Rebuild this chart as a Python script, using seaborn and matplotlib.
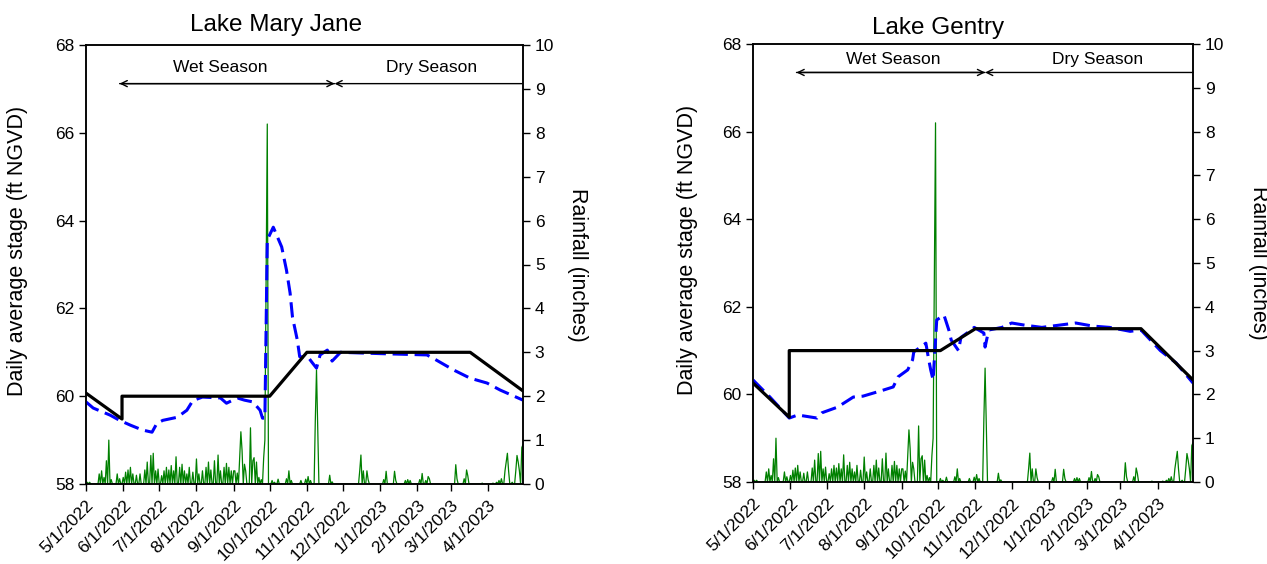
import matplotlib
matplotlib.use('Agg')
import matplotlib.pyplot as plt
import matplotlib.dates as mdates
import seaborn as sns
import pandas as pd

# ---------------- data ----------------
tick_dates = ['5/1/2022', '6/1/2022', '7/1/2022', '8/1/2022', '9/1/2022', '10/1/2022',
              '11/1/2022', '12/1/2022', '1/1/2023', '2/1/2023', '3/1/2023', '4/1/2023']
tick_labels = tick_dates

rain_dates = ['5/2/2022', '5/4/2022', '5/12/2022', '5/14/2022', '5/16/2022', '5/18/2022', '5/20/2022',
              '5/22/2022', '5/27/2022', '5/29/2022', '6/1/2022', '6/3/2022', '6/5/2022', '6/7/2022',
              '6/9/2022', '6/12/2022', '6/15/2022', '6/19/2022', '6/21/2022', '6/24/2022', '6/26/2022',
              '6/28/2022', '6/30/2022', '7/3/2022', '7/5/2022', '7/7/2022', '7/9/2022', '7/11/2022',
              '7/13/2022', '7/15/2022', '7/18/2022', '7/20/2022', '7/22/2022', '7/24/2022', '7/26/2022',
              '7/29/2022', '8/1/2022', '8/3/2022', '8/6/2022', '8/9/2022', '8/11/2022', '8/13/2022',
              '8/16/2022', '8/19/2022', '8/21/2022', '8/24/2022', '8/26/2022', '8/28/2022', '8/30/2022',
              '9/1/2022', '9/2/2022', '9/4/2022', '9/6/2022', '9/7/2022', '9/8/2022', '9/10/2022',
              '9/11/2022', '9/15/2022', '9/17/2022', '9/18/2022', '9/20/2022', '9/22/2022', '9/24/2022',
              '9/26/2022', '9/27/2022', '9/28/2022', '9/29/2022', '10/3/2022', '10/5/2022', '10/8/2022',
              '10/15/2022', '10/17/2022', '10/19/2022', '10/27/2022', '10/31/2022', '11/2/2022',
              '11/4/2022', '11/8/2022', '11/9/2022', '11/10/2022', '11/20/2022', '11/22/2022',
              '12/15/2022', '12/16/2022', '12/18/2022', '12/21/2022', '12/22/2022', '1/4/2023',
              '1/6/2023', '1/13/2023', '1/14/2023', '1/22/2023', '1/24/2023', '1/26/2023', '2/3/2023',
              '2/5/2023', '2/8/2023', '2/10/2023', '2/11/2023', '3/5/2023', '3/6/2023', '3/12/2023',
              '3/14/2023', '3/15/2023', '3/27/2023', '4/5/2023', '4/8/2023', '4/10/2023', '4/12/2023',
              '4/15/2023', '4/16/2023', '4/17/2023', '4/18/2023', '4/21/2023', '4/24/2023', '4/25/2023',
              '4/26/2023', '4/27/2023', '4/29/2023', '4/30/2023']
rain_values = [0.04, 0.04, 0.23, 0.30, 0.15, 0.53, 1.00,
               0.10, 0.23, 0.12, 0.15, 0.27, 0.32, 0.38,
               0.23, 0.20, 0.23, 0.32, 0.50, 0.65, 0.70,
               0.30, 0.34, 0.19, 0.30, 0.38, 0.32, 0.42,
               0.30, 0.62, 0.38, 0.45, 0.30, 0.23, 0.38,
               0.27, 0.57, 0.23, 0.30, 0.38, 0.50, 0.32,
               0.53, 0.66, 0.30, 0.38, 0.47, 0.38, 0.30,
               0.30, 0.30, 0.25, 0.60, 1.19, 0.76, 0.45,
               0.30, 1.28, 0.53, 0.60, 0.50, 0.15, 0.10,
               0.60, 1.00, 4.60, 8.20, 0.08, 0.04, 0.11,
               0.12, 0.30, 0.08, 0.08, 0.11, 0.17,
               0.08, 1.45, 2.60, 1.35, 0.20, 0.05,
               0.30, 0.66, 0.30, 0.30, 0.10, 0.10,
               0.29, 0.29, 0.08, 0.08, 0.10, 0.08, 0.10,
               0.24, 0.08, 0.17, 0.12, 0.44, 0.12, 0.12,
               0.32, 0.19, 0.02, 0.02, 0.04, 0.08, 0.12,
               0.30, 0.50, 0.70, 0.30, 0.04, 0.30, 0.65,
               0.50, 0.30, 0.83, 0.90]

mj_stage_dates = ['5/1/2022', '5/7/2022', '5/21/2022', '5/29/2022', '6/7/2022', '6/17/2022', '6/25/2022',
                  '6/29/2022', '7/4/2022', '7/16/2022', '7/24/2022', '7/29/2022', '8/6/2022', '8/21/2022',
                  '8/26/2022', '9/4/2022', '9/10/2022', '9/17/2022', '9/23/2022', '9/25/2022', '9/27/2022',
                  '9/29/2022', '10/4/2022', '10/11/2022', '10/15/2022', '10/18/2022', '10/20/2022',
                  '10/24/2022', '10/26/2022', '11/2/2022', '11/5/2022', '11/9/2022', '11/12/2022',
                  '11/18/2022', '11/22/2022', '11/29/2022', '1/1/2023', '2/9/2023', '2/17/2023',
                  '3/3/2023', '3/17/2023', '3/31/2023', '4/11/2023', '4/30/2023']
mj_stage_values = [59.87, 59.73, 59.57, 59.45, 59.34, 59.23, 59.18,
                   59.38, 59.45, 59.52, 59.68, 59.90, 59.98, 59.96,
                   59.84, 59.96, 59.91, 59.87, 59.68, 59.50, 59.50,
                   63.56, 63.85, 63.40, 62.87, 62.35, 61.80,
                   61.28, 60.90, 60.89, 60.78, 60.64, 60.94,
                   61.05, 60.80, 61.00, 60.97, 60.94, 60.82,
                   60.60, 60.41, 60.30, 60.14, 59.91]
mj_sched_dates = ['5/1/2022', '5/31/2022', '5/31/2022', '10/1/2022', '11/1/2022', '3/17/2023', '4/30/2023']
mj_sched_values = [60.07, 59.48, 60.0, 60.0, 61.0, 61.0, 60.12]

lg_stage_dates = ['5/1/2022', '5/15/2022', '5/31/2022', '6/7/2022', '6/23/2022', '6/27/2022', '7/10/2022',
                  '7/23/2022', '7/31/2022', '8/17/2022', '8/25/2022', '8/29/2022', '9/6/2022', '9/10/2022',
                  '9/11/2022', '9/19/2022', '9/21/2022', '9/23/2022', '9/25/2022', '9/27/2022', '9/30/2022',
                  '10/6/2022', '10/10/2022', '10/12/2022', '10/18/2022', '10/20/2022', '10/26/2022',
                  '10/31/2022', '11/8/2022', '11/9/2022', '11/12/2022', '11/23/2022', '12/1/2022',
                  '12/12/2022', '12/26/2022', '1/9/2023', '1/23/2023', '2/6/2023', '2/20/2023',
                  '3/9/2023', '3/18/2023', '4/3/2023', '4/16/2023', '4/30/2023']
lg_stage_values = [60.33, 59.94, 59.46, 59.53, 59.46, 59.58, 59.71,
                   59.94, 59.96, 60.10, 60.17, 60.40, 60.56, 60.79,
                   60.97, 61.13, 61.17, 60.85, 60.56, 60.33, 61.70,
                   61.81, 61.47, 61.24, 61.00, 61.30, 61.42,
                   61.53, 61.40, 61.08, 61.47, 61.53, 61.63,
                   61.58, 61.53, 61.58, 61.63, 61.56, 61.53,
                   61.44, 61.47, 61.00, 60.72, 60.26]
lg_sched_dates = ['5/1/2022', '5/31/2022', '5/31/2022', '10/3/2022', '11/1/2022', '3/18/2023', '4/30/2023']
lg_sched_values = [60.26, 59.48, 61.0, 61.0, 61.5, 61.5, 60.33]

# season annotation positions (dates, rainfall-axis units)
mj_season = dict(wet_start='5/29/2022', meet='11/24/2022', end='4/29/2023',
                 wet_text='8/21/2022', dry_text='2/13/2023', arrow_y=9.12, text_y=9.48)
lg_season = dict(wet_start='6/6/2022', meet='11/9/2022', end='4/30/2023',
                 wet_text='8/25/2022', dry_text='2/10/2023', arrow_y=9.35, text_y=9.64)

# ---------------- style ----------------
sns.set_theme(style='ticks')
plt.rcParams['font.family'] = ['Liberation Sans', 'DejaVu Sans']
plt.rcParams.update({
    'axes.edgecolor': 'black', 'axes.linewidth': 1.1,
    'xtick.color': 'black', 'ytick.color': 'black',
    'xtick.major.size': 5, 'ytick.major.size': 5,
    'xtick.major.width': 1.0, 'ytick.major.width': 1.0,
    'text.color': 'black', 'axes.labelcolor': 'black',
})

fmt = '%m/%d/%Y'
rain = pd.Series(0.0, index=pd.date_range('2022-05-01', '2023-04-30', freq='D'))
rain.loc[pd.to_datetime(rain_dates, format=fmt)] = rain_values
rain_df = pd.DataFrame({'date': rain.index, 'rain': rain.values})

fig = plt.figure(figsize=(12.67, 5.64), dpi=100)
axL = fig.add_axes([86 / 1267, 1 - 484 / 564, 437 / 1267, 439 / 564])
axR = fig.add_axes([753 / 1267, 1 - 482 / 564, 440 / 1267, 438 / 564])


def d(s):
    return mdates.date2num(pd.to_datetime(s, format=fmt))


def panel(ax, title, sd, sv, cd, cv, season, title_x, title_y, ylab_x, rlab_x):
    ax2 = ax.twinx()
    sns.lineplot(data=rain_df, x='date', y='rain', ax=ax2, color='#008000', lw=0.9)
    st = pd.DataFrame({'date': pd.to_datetime(sd, format=fmt), 'stage': sv})
    sc = pd.DataFrame({'date': pd.to_datetime(cd, format=fmt), 'stage': cv})
    sns.lineplot(data=st, x='date', y='stage', ax=ax, color='#0000ff', lw=2.2,
                 dashes=False, estimator=None, sort=False, linestyle=(0, (5, 2.2)))
    sns.lineplot(data=sc, x='date', y='stage', ax=ax, color='black', lw=2.3,
                 estimator=None, sort=False)
    ax.set_zorder(ax2.get_zorder() + 1)
    ax.patch.set_visible(False)

    ax.set_xlim(d('5/1/2022'), d('4/30/2023'))
    ax.set_ylim(58, 68)
    ax2.set_ylim(0, 10)
    ax.set_yticks(range(58, 69, 2))
    ax2.set_yticks(range(0, 11))
    ax.set_xticks([d(t) for t in tick_dates])
    ax.set_xticklabels(tick_labels, rotation=45, ha='right', rotation_mode='anchor')
    ax.tick_params(axis='both', labelsize=12.5)
    ax.tick_params(axis='x', pad=5)
    ax2.tick_params(axis='y', labelsize=12.5)
    ax.grid(False)
    ax2.grid(False)
    ax.set_xlabel('')
    ax.set_ylabel('Daily average stage (ft NGVD)', fontsize=15.5)
    ax.yaxis.set_label_coords(ylab_x, 0.53)
    ax2.set_ylabel('Rainfall (inches)', fontsize=15.5, rotation=270, va='center')
    ax2.yaxis.set_label_coords(rlab_x, 0.5)
    for sp in ax.spines.values():
        sp.set_visible(True)

    ax.text(title_x, title_y, title, transform=ax.transAxes, ha='center', va='center',
            fontsize=17.5)

    ay, ty = season['arrow_y'], season['text_y']
    ap = dict(arrowstyle='->', lw=1.0, color='black', shrinkA=0, shrinkB=0, mutation_scale=11)
    ax2.annotate('', xy=(d(season['wet_start']), ay), xytext=(d(season['meet']), ay), arrowprops=ap)
    ax2.annotate('', xy=(d(season['meet']), ay), xytext=(d(season['wet_start']), ay), arrowprops=ap)
    ax2.annotate('', xy=(d(season['meet']), ay), xytext=(d(season['end']), ay), arrowprops=ap)
    ax2.text(d(season['wet_text']), ty, 'Wet Season', ha='center', va='center', fontsize=12.5)
    ax2.text(d(season['dry_text']), ty, 'Dry Season', ha='center', va='center', fontsize=12.5)
    ax2.set_xlim(d('5/1/2022'), d('4/30/2023'))


panel(axL, 'Lake Mary Jane', mj_stage_dates, mj_stage_values, mj_sched_dates, mj_sched_values,
      mj_season, 0.435, 1.046, -0.133, 1.124)
panel(axR, 'Lake Gentry', lg_stage_dates, lg_stage_values, lg_sched_dates, lg_sched_values,
      lg_season, 0.42, 1.037, -0.125, 1.148)

fig.savefig('out.png', dpi=100)
